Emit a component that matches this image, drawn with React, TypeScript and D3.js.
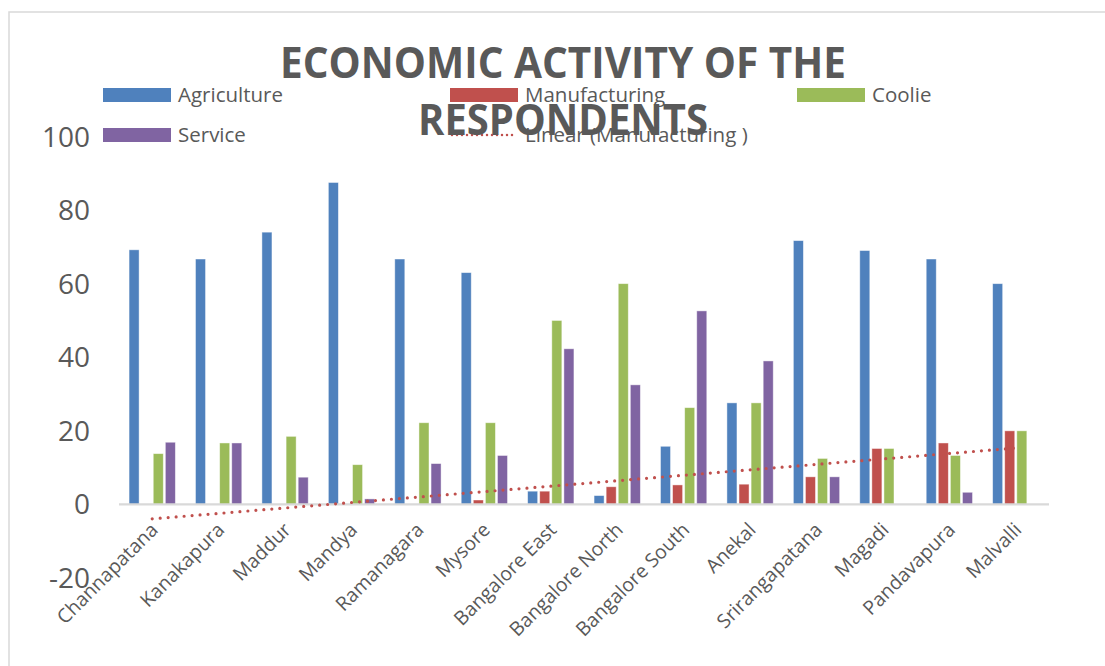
import React, { useEffect, useRef } from "react";
import * as d3 from "d3";

// Economic activity of respondents by taluk (% of respondents)
const categories = [
  "Channapatana", "Kanakapura", "Maddur", "Mandya", "Ramanagara", "Mysore",
  "Bangalore East", "Bangalore North", "Bangalore South", "Anekal",
  "Srirangapatana", "Magadi", "Pandavapura", "Malvalli",
];
const agriculture = [69.2, 66.7, 74.0, 87.5, 66.7, 63.0, 3.6, 2.4, 15.8, 27.6, 71.7, 69.0, 66.7, 60.0];
const manufacturing = [0, 0, 0, 0, 0, 1.2, 3.6, 4.8, 5.3, 5.5, 7.5, 15.2, 16.7, 20.0];
const coolie = [13.8, 16.7, 18.5, 10.8, 22.2, 22.2, 50.0, 60.0, 26.3, 27.6, 12.5, 15.2, 13.3, 20.0];
const service = [16.9, 16.7, 7.4, 1.5, 11.1, 13.3, 42.3, 32.5, 52.6, 39.0, 7.5, 0, 3.3, 0];
const seriesNames = ["Agriculture", "Manufacturing", "Coolie", "Service"];
const seriesColors = ["#4F81BD", "#C0504D", "#9BBB59", "#8064A2"];
const yTicks = [-20, 0, 20, 40, 60, 80, 100];
const titleLines = ["ECONOMIC ACTIVITY OF THE", "RESPONDENTS"];
const trendLabel = "Linear (Manufacturing )";

const W = 1105;
const H = 666;
const FONT = "'Open Sans', 'Noto Sans', sans-serif";
const TEXT = "#595959";

export default function App() {
  const ref = useRef<SVGSVGElement | null>(null);

  useEffect(() => {
    const svg = d3.select(ref.current);
    svg.selectAll("*").remove();

    const values = [agriculture, manufacturing, coolie, service];

    // chart area frame
    svg.append("rect")
      .attr("x", 9).attr("y", 12)
      .attr("width", 1120).attr("height", 680)
      .attr("fill", "#fff").attr("stroke", "#D9D9D9").attr("stroke-width", 1.5);

    const plotLeft = 119, plotRight = 1049;
    const x0 = d3.scaleBand<string>().domain(categories).range([plotLeft, plotRight]).padding(0);
    const groupW = 46.3;
    const x1 = d3.scaleBand<string>().domain(seriesNames).range([0, groupW]).paddingInner(0.17);
    const y = d3.scaleLinear().domain([-20, 100]).range([578, 136.5]);

    // bars
    const g = svg.append("g");
    values.forEach((vals, si) => {
      g.selectAll(null)
        .data(vals.map((v, i) => ({ v, c: categories[i] })))
        .enter()
        .filter((d) => d.v !== 0)
        .append("rect")
        .attr("x", (d) => (x0(d.c) as number) + (x0.bandwidth() - groupW) / 2 + (x1(seriesNames[si]) as number))
        .attr("y", (d) => y(Math.max(0, d.v)))
        .attr("width", x1.bandwidth())
        .attr("height", (d) => Math.abs(y(d.v) - y(0)))
        .attr("fill", seriesColors[si])
        .attr("stroke", "#ffffff")
        .attr("stroke-opacity", 0.55)
        .attr("stroke-width", 0.8);
    });

    // zero axis line
    svg.append("line")
      .attr("x1", plotLeft).attr("x2", plotRight)
      .attr("y1", y(0)).attr("y2", y(0))
      .attr("stroke", "#D9D9D9").attr("stroke-width", 2.2);

    // linear trendline for manufacturing (least squares over category index)
    const xs = manufacturing.map((_, i) => i + 1);
    const mx = d3.mean(xs) as number;
    const my = d3.mean(manufacturing) as number;
    const sxy = d3.sum(xs.map((xv, i) => (xv - mx) * (manufacturing[i] - my)));
    const sxx = d3.sum(xs.map((xv) => (xv - mx) ** 2));
    const slope = sxy / sxx;
    const intercept = my - slope * mx;
    const trendPts: [number, number][] = [1, categories.length].map((xv) => [
      (x0(categories[xv - 1]) as number) + x0.bandwidth() / 2,
      y(intercept + slope * xv),
    ]);
    svg.append("path")
      .attr("d", d3.line()(trendPts))
      .attr("fill", "none")
      .attr("stroke", "#C0504D")
      .attr("stroke-width", 3.2)
      .attr("stroke-linecap", "round")
      .attr("stroke-dasharray", "0 8");

    // y tick labels
    svg.append("g").selectAll("text")
      .data(yTicks).enter().append("text")
      .attr("x", 90).attr("y", (d) => y(d))
      .attr("dy", "0.36em")
      .attr("text-anchor", "end")
      .attr("font-family", FONT).attr("font-size", 28)
      .attr("fill", TEXT)
      .text((d) => String(d));

    // category labels
    svg.append("g").selectAll("text")
      .data(categories).enter().append("text")
      .attr("transform", (d) => `translate(${(x0(d) as number) + x0.bandwidth() / 2 + 7},${531}) rotate(-45)`)
      .attr("text-anchor", "end")
      .attr("font-family", FONT).attr("font-size", 19.5)
      .attr("fill", TEXT)
      .text((d) => d);

    // legend
    const legendItems = [
      { name: seriesNames[0], color: seriesColors[0], x: 103, y: 95, type: "rect" },
      { name: seriesNames[1], color: seriesColors[1], x: 450, y: 95, type: "rect" },
      { name: seriesNames[2], color: seriesColors[2], x: 797, y: 95, type: "rect" },
      { name: seriesNames[3], color: seriesColors[3], x: 103, y: 135, type: "rect" },
      { name: trendLabel, color: seriesColors[1], x: 450, y: 135, type: "line" },
    ];
    const lg = svg.append("g");
    legendItems.forEach((it) => {
      if (it.type === "rect") {
        lg.append("rect")
          .attr("x", it.x).attr("y", it.y - 7)
          .attr("width", 68).attr("height", 14)
          .attr("fill", it.color);
      } else {
        lg.append("line")
          .attr("x1", it.x + 2).attr("x2", it.x + 66)
          .attr("y1", it.y).attr("y2", it.y)
          .attr("stroke", it.color).attr("stroke-width", 2.5)
          .attr("stroke-linecap", "round")
          .attr("stroke-dasharray", "0 5");
      }
      lg.append("text")
        .attr("x", it.x + 75).attr("y", it.y)
        .attr("dy", "0.35em")
        .attr("font-family", FONT).attr("font-size", 20.5)
        .attr("fill", TEXT)
        .text(it.name);
    });

    // title (drawn last, overlapping the legend)
    const tg = svg.append("g");
    tg.append("text")
      .attr("x", 563).attr("y", 78)
      .attr("text-anchor", "middle")
      .attr("font-family", FONT).attr("font-weight", "bold").attr("font-size", 43)
      .attr("fill", TEXT)
      .attr("textLength", 566).attr("lengthAdjust", "spacingAndGlyphs")
      .text(titleLines[0]);
    tg.append("text")
      .attr("x", 563).attr("y", 135)
      .attr("text-anchor", "middle")
      .attr("font-family", FONT).attr("font-weight", "bold").attr("font-size", 43)
      .attr("fill", TEXT)
      .attr("textLength", 290).attr("lengthAdjust", "spacingAndGlyphs")
      .text(titleLines[1]);
  }, []);

  return (
    <svg
      ref={ref}
      width={W}
      height={H}
      style={{ position: "absolute", left: 0, top: 0, display: "block", background: "#fff" }}
    />
  );
}
